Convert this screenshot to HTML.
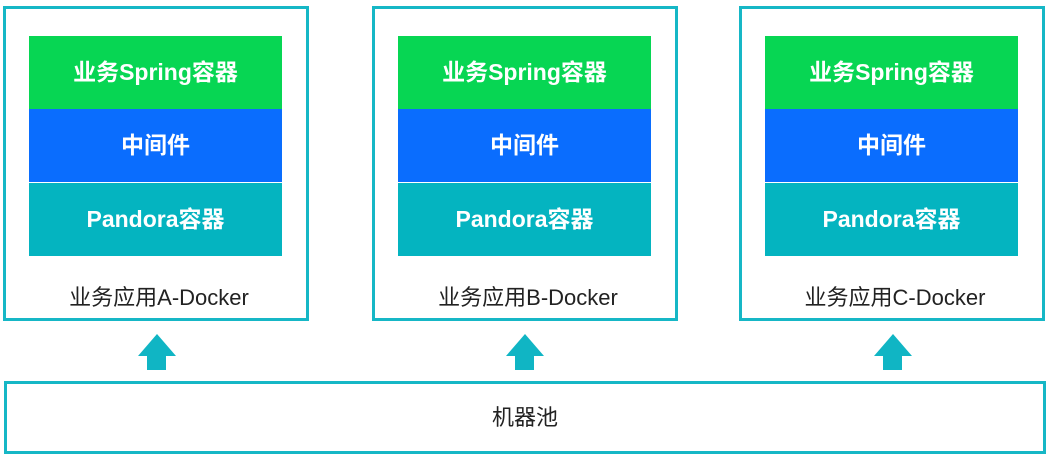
<!DOCTYPE html>
<html><head><meta charset="utf-8"><style>
body{margin:0;width:1052px;height:461px;background:#fff;position:relative;overflow:hidden;font-family:"Liberation Sans","Noto Sans CJK SC",sans-serif}
.box{position:absolute;top:6px;width:300px;height:309px;border:3px solid #16b7c6;box-sizing:content-box}
.l{position:absolute;left:23px;width:253px;height:73px;color:#fff;font-weight:bold;font-size:23px;text-align:center;line-height:73px}
.g{top:27px;background:#07d653}.b{top:100px;background:#0a6dfe}.t{top:174px;background:#04b4c0}
.cap{position:absolute;top:271px;left:0;width:306px;text-align:center;font-size:22px;color:#222}
.arr{position:absolute;top:334px;width:0;height:0;border-left:19px solid transparent;border-right:19px solid transparent;border-bottom:22px solid #10b5c4}
.sh{position:absolute;top:355px;width:19px;height:15px;background:#10b5c4}
.pool{position:absolute;left:4px;top:381px;width:1036px;height:67px;border:3px solid #16b7c6;text-align:center;line-height:67px;font-size:22px;color:#222}
</style></head><body>
<div class="box" style="left:3px"><div class="l g">业务Spring容器</div><div class="l b">中间件</div><div class="l t">Pandora容器</div><div class="cap">业务应用A-Docker</div></div>
<div class="box" style="left:372px"><div class="l g">业务Spring容器</div><div class="l b">中间件</div><div class="l t">Pandora容器</div><div class="cap">业务应用B-Docker</div></div>
<div class="box" style="left:739px"><div class="l g">业务Spring容器</div><div class="l b">中间件</div><div class="l t">Pandora容器</div><div class="cap">业务应用C-Docker</div></div>
<div class="arr" style="left:138px"></div><div class="sh" style="left:147px"></div>
<div class="arr" style="left:506px"></div><div class="sh" style="left:515px"></div>
<div class="arr" style="left:874px"></div><div class="sh" style="left:883px"></div>
<div class="pool">机器池</div>
</body></html>
